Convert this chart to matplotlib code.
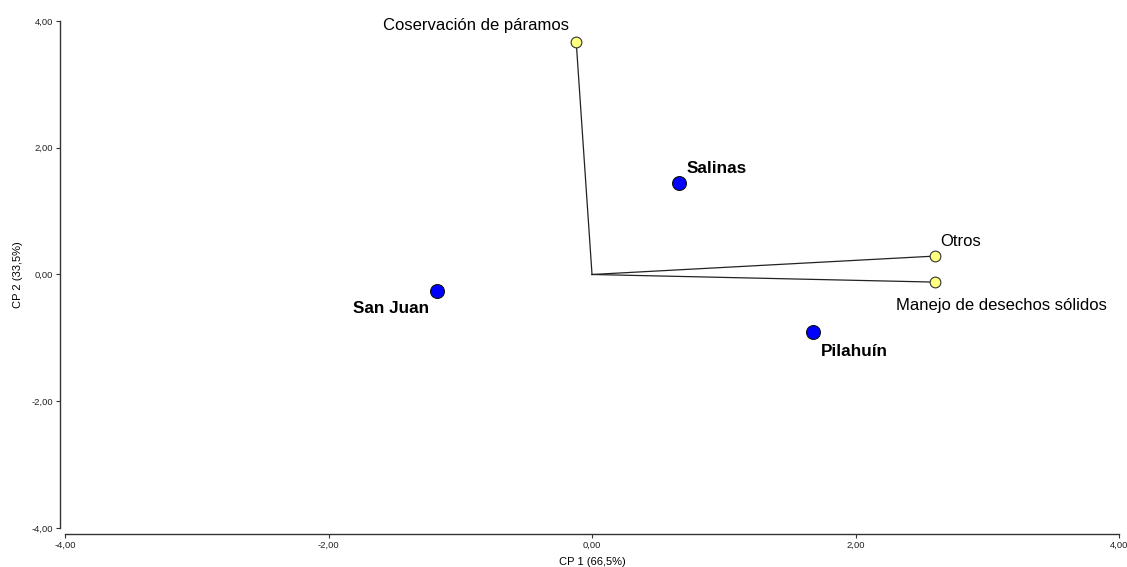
import matplotlib.pyplot as plt

plt.rcParams['font.family'] = ['Liberation Sans', 'DejaVu Sans']

# Sitios (puntos azules)
sites = ['Salinas', 'San Juan', 'Pilahuín']
site_x = [0.66, -1.18, 1.68]
site_y = [1.44, -0.26, -0.91]

# Variables (vectores amarillos)
variables = ['Coservación de páramos', 'Otros', 'Manejo de desechos sólidos']
var_x = [-0.12, 2.60, 2.60]
var_y = [3.67, 0.29, -0.12]

ticks = [-4, -2, 0, 2, 4]
tick_labels = ['-4,00', '-2,00', '0,00', '2,00', '4,00']

fig = plt.figure(figsize=(11.27, 5.67), dpi=100)
ax = fig.add_axes([0.0577, 0.0688, 0.9352, 0.8942])

# vectors from origin
for vx, vy in zip(var_x, var_y):
    ax.plot([0, vx], [0, vy], color='#222222', lw=0.9, zorder=2)
ax.scatter(var_x, var_y, s=60, c='#ffff80', edgecolors='#333333', linewidths=0.8, zorder=3)
ax.scatter(site_x, site_y, s=100, c='#0000ff', edgecolors='#111111', linewidths=0.8, zorder=4)

# point labels
site_offsets = [(8, 15, 'left'), (-7, -18, 'right'), (8, -19, 'left')]
for name, x, y, (dx, dy, ha) in zip(sites, site_x, site_y, site_offsets):
    ax.annotate(name, (x, y), xytext=(dx, dy), textcoords='offset pixels',
                ha=ha, va='center', fontsize=12.3, fontweight='bold')

var_offsets = [(-7, 16, 'right'), (6, 15, 'left'), (-39, -23, 'left')]
for name, x, y, (dx, dy, ha) in zip(variables, var_x, var_y, var_offsets):
    ax.annotate(name, (x, y), xytext=(dx, dy), textcoords='offset pixels',
                ha=ha, va='center', fontsize=12.0)

ax.set_xlim(-4, 4)
ax.set_ylim(-4, 4)
ax.set_xticks(ticks)
ax.set_xticklabels(tick_labels)
ax.set_yticks(ticks)
ax.set_yticklabels(tick_labels)
ax.tick_params(labelsize=6.8, length=3, width=0.8, colors='#333333', labelcolor='#222222', pad=2)

ax.spines['top'].set_visible(False)
ax.spines['right'].set_visible(False)
ax.spines['left'].set_position(('outward', 3.6))
ax.spines['bottom'].set_position(('outward', 4.3))
for s in ['left', 'bottom']:
    ax.spines[s].set_color('#333333')
    ax.spines[s].set_linewidth(1.0)

ax.set_xlabel('CP 1 (66,5%)', fontsize=8, labelpad=5)
ax.set_ylabel('CP 2 (33,5%)', fontsize=8, labelpad=6)

fig.savefig('out.png', dpi=100)
